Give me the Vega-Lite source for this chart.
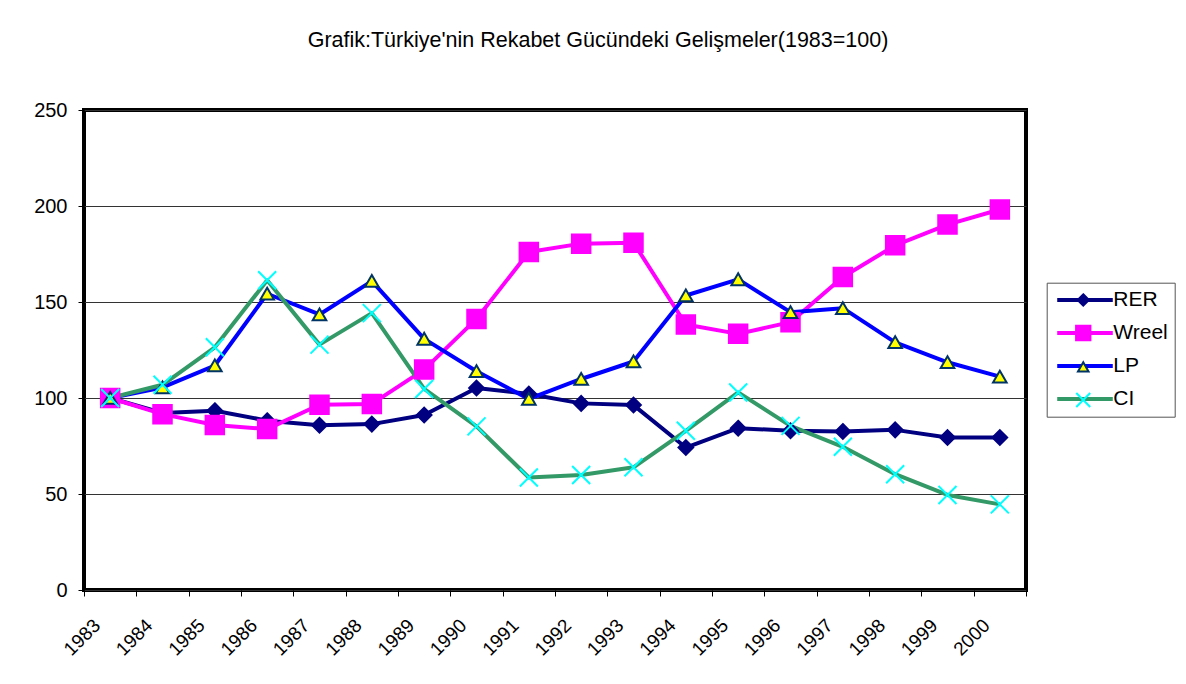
{
  "$schema": "https://vega.github.io/schema/vega-lite/v6.json",
  "width": 942,
  "height": 480,
  "autosize": "none",
  "padding": {"left": 84, "top": 110, "right": 160, "bottom": 94},
  "background": "white",
  "config": {
    "view": {"stroke": "black", "strokeWidth": 4},
    "font": "Liberation Sans"
  },
  "title": {
    "text": "Grafik:Türkiye'nin Rekabet Gücündeki Gelişmeler(1983=100)",
    "fontSize": 21.5,
    "font": "Liberation Sans",
    "fontWeight": "normal",
    "color": "black",
    "anchor": "middle",
    "frame": "group",
    "dx": 43,
    "baseline": "alphabetic",
    "offset": 32
  },
  "data": {
    "values": [
      {"year": 1983, "series": "RER", "value": 100},
      {"year": 1984, "series": "RER", "value": 92.2},
      {"year": 1985, "series": "RER", "value": 93.4},
      {"year": 1986, "series": "RER", "value": 88.2},
      {"year": 1987, "series": "RER", "value": 85.8},
      {"year": 1988, "series": "RER", "value": 86.4},
      {"year": 1989, "series": "RER", "value": 91.1},
      {"year": 1990, "series": "RER", "value": 105.2},
      {"year": 1991, "series": "RER", "value": 102.1},
      {"year": 1992, "series": "RER", "value": 97.2},
      {"year": 1993, "series": "RER", "value": 96.3},
      {"year": 1994, "series": "RER", "value": 74.2},
      {"year": 1995, "series": "RER", "value": 84.3},
      {"year": 1996, "series": "RER", "value": 82.9},
      {"year": 1997, "series": "RER", "value": 82.6},
      {"year": 1998, "series": "RER", "value": 83.4},
      {"year": 1999, "series": "RER", "value": 79.4},
      {"year": 2000, "series": "RER", "value": 79.4},
      {"year": 1983, "series": "Wreel", "value": 100},
      {"year": 1984, "series": "Wreel", "value": 91.6},
      {"year": 1985, "series": "Wreel", "value": 85.9},
      {"year": 1986, "series": "Wreel", "value": 83.8},
      {"year": 1987, "series": "Wreel", "value": 96.5},
      {"year": 1988, "series": "Wreel", "value": 96.9},
      {"year": 1989, "series": "Wreel", "value": 114.8},
      {"year": 1990, "series": "Wreel", "value": 141.2},
      {"year": 1991, "series": "Wreel", "value": 176.0},
      {"year": 1992, "series": "Wreel", "value": 180.4},
      {"year": 1993, "series": "Wreel", "value": 180.9},
      {"year": 1994, "series": "Wreel", "value": 138.3},
      {"year": 1995, "series": "Wreel", "value": 133.4},
      {"year": 1996, "series": "Wreel", "value": 139.5},
      {"year": 1997, "series": "Wreel", "value": 163.0},
      {"year": 1998, "series": "Wreel", "value": 179.5},
      {"year": 1999, "series": "Wreel", "value": 190.3},
      {"year": 2000, "series": "Wreel", "value": 198.2},
      {"year": 1983, "series": "LP", "value": 100},
      {"year": 1984, "series": "LP", "value": 105.5},
      {"year": 1985, "series": "LP", "value": 116.9},
      {"year": 1986, "series": "LP", "value": 154.3},
      {"year": 1987, "series": "LP", "value": 143.5},
      {"year": 1988, "series": "LP", "value": 160.9},
      {"year": 1989, "series": "LP", "value": 130.8},
      {"year": 1990, "series": "LP", "value": 113.9},
      {"year": 1991, "series": "LP", "value": 99.5},
      {"year": 1992, "series": "LP", "value": 109.9},
      {"year": 1993, "series": "LP", "value": 119.0},
      {"year": 1994, "series": "LP", "value": 153.4},
      {"year": 1995, "series": "LP", "value": 161.8},
      {"year": 1996, "series": "LP", "value": 144.7},
      {"year": 1997, "series": "LP", "value": 146.8},
      {"year": 1998, "series": "LP", "value": 129.0},
      {"year": 1999, "series": "LP", "value": 118.6},
      {"year": 2000, "series": "LP", "value": 111.1},
      {"year": 1983, "series": "CI", "value": 100},
      {"year": 1984, "series": "CI", "value": 106.9},
      {"year": 1985, "series": "CI", "value": 126.4},
      {"year": 1986, "series": "CI", "value": 161.3},
      {"year": 1987, "series": "CI", "value": 127.8},
      {"year": 1988, "series": "CI", "value": 144.2},
      {"year": 1989, "series": "CI", "value": 104.7},
      {"year": 1990, "series": "CI", "value": 85.2},
      {"year": 1991, "series": "CI", "value": 58.6},
      {"year": 1992, "series": "CI", "value": 59.9},
      {"year": 1993, "series": "CI", "value": 63.9},
      {"year": 1994, "series": "CI", "value": 82.9},
      {"year": 1995, "series": "CI", "value": 102.9},
      {"year": 1996, "series": "CI", "value": 85.5},
      {"year": 1997, "series": "CI", "value": 74.6},
      {"year": 1998, "series": "CI", "value": 60.3},
      {"year": 1999, "series": "CI", "value": 49.5},
      {"year": 2000, "series": "CI", "value": 44.6}
    ]
  },
  "encoding": {
    "x": {
      "field": "year",
      "type": "ordinal",
      "bandPosition": 0.5,
      "scale": {"type": "band", "paddingInner": 0, "paddingOuter": 0},
      "axis": {
        "title": null,
        "tickBand": "extent",
        "labelAngle": -45,
        "labelAlign": "center",
        "labelBaseline": "middle",
        "labelOffset": -28.5,
        "labelPadding": 41,
        "tickSize": 6,
        "tickColor": "black",
        "domain": false,
        "grid": false,
        "labelFontSize": 19,
        "labelColor": "black",
        "labelFont": "Liberation Sans"
      }
    },
    "y": {
      "field": "value",
      "type": "quantitative",
      "scale": {"domain": [0, 250]},
      "axis": {
        "title": null,
        "values": [0, 50, 100, 150, 200, 250],
        "tickSize": 6,
        "tickColor": "black",
        "labelPadding": 11,
        "domain": false,
        "grid": true,
        "gridColor": "#333333",
        "gridWidth": 1,
        "gridOpacity": 1,
        "labelFontSize": 20,
        "labelColor": "black",
        "labelFont": "Liberation Sans"
      }
    }
  },
  "layer": [
    {
      "mark": {"type": "line", "strokeWidth": 4, "strokeJoin": "round"},
      "encoding": {
        "color": {
          "field": "series",
          "type": "nominal",
          "scale": {
            "domain": ["RER", "Wreel", "LP", "CI"],
            "range": ["#000080", "#FF00FF", "#0000FF", "#339966"]
          },
          "legend": {
            "orient": "none",
            "legendX": 962.7,
            "legendY": 172.7,
            "title": null,
            "padding": 6.8,
            "symbolOffset": 21,
            "labelOffset": 17.8,
            "labelFontSize": 21,
            "labelFont": "Liberation Sans",
            "labelColor": "black",
            "rowPadding": 11,
            "symbolSize": 144,
            "symbolType": "M-4.63,0H4.63",
            "symbolStrokeWidth": 4,
            "strokeColor": "#555555"
          }
        }
      }
    },
    {
      "mark": {"type": "point", "filled": true, "strokeWidth": 2, "opacity": 1},
      "encoding": {
        "shape": {
          "field": "series",
          "type": "nominal",
          "sort": null,
          "scale": {
            "range": [
              "M0,-0.735L0.735,0L0,0.735L-0.735,0Z",
              "M-0.925,-0.925H0.925V0.925H-0.925Z",
              "M0,-0.6L0.68,0.58L-0.68,0.58Z",
              "M-0.9,-0.9L0.9,0.9M-0.9,0.9L0.9,-0.9"
            ]
          },
          "legend": {
            "orient": "none",
            "legendX": 962.7,
            "legendY": 172.7,
            "title": null,
            "padding": 6.8,
            "symbolOffset": 19.25,
            "labelOffset": 17.8,
            "labelFontSize": 21,
            "labelExpr": "''",
            "rowPadding": 11,
            "symbolSize": 240,
            "symbolStrokeWidth": 2,
            "symbolOpacity": 1
          }
        },
        "fill": {
          "field": "series",
          "type": "nominal",
          "sort": null,
          "scale": {"range": ["#000080", "#FF00FF", "#FFFF00", "transparent"]},
          "legend": {
            "orient": "none",
            "legendX": 962.7,
            "legendY": 172.7,
            "title": null,
            "padding": 6.8,
            "symbolOffset": 19.25,
            "labelOffset": 17.8,
            "labelFontSize": 21,
            "labelExpr": "''",
            "rowPadding": 11,
            "symbolSize": 240,
            "symbolStrokeWidth": 2,
            "symbolOpacity": 1
          }
        },
        "stroke": {
          "field": "series",
          "type": "nominal",
          "sort": null,
          "scale": {"range": ["#000080", "#FF00FF", "#003366", "#00FFFF"]},
          "legend": {
            "orient": "none",
            "legendX": 962.7,
            "legendY": 172.7,
            "title": null,
            "padding": 6.8,
            "symbolOffset": 19.25,
            "labelOffset": 17.8,
            "labelFontSize": 21,
            "labelExpr": "''",
            "rowPadding": 11,
            "symbolSize": 240,
            "symbolStrokeWidth": 2,
            "symbolOpacity": 1
          }
        },
        "size": {"value": 400}
      }
    }
  ]
}
